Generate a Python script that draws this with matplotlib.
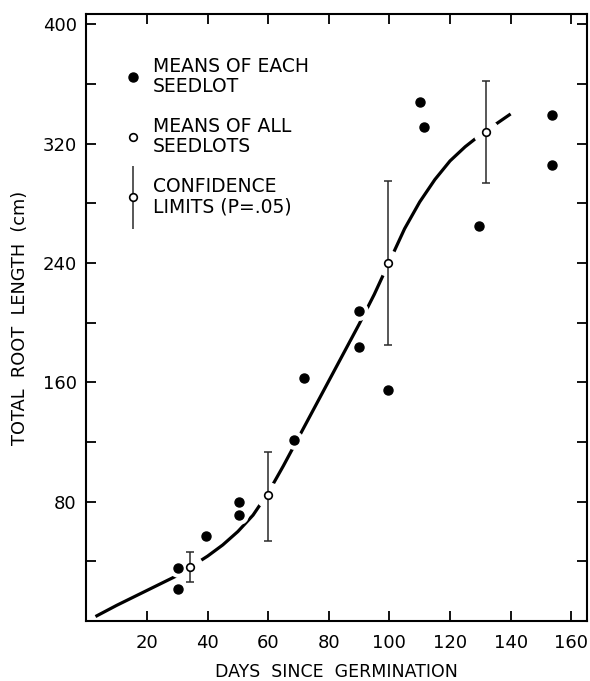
import numpy as np
import matplotlib
matplotlib.use('Agg')
import matplotlib.pyplot as plt
from matplotlib.lines import Line2D
from matplotlib.legend_handler import HandlerErrorbar

# means of each seedlot (filled dots)
seed_x = [30.3, 30.3, 39.4, 50.5, 50.5, 68.5, 71.9, 90, 90, 99.6, 110.1, 111.4, 129.7, 153.8, 153.8]
seed_y = [35.4, 21.3, 57, 79.7, 70.9, 121.5, 162.9, 208, 184, 154.6, 348, 331, 264.6, 339, 305.6]

# means of all seedlots with confidence limits
mean_x = [34.1, 59.8, 99.4, 131.8]
mean_y = [36.4, 84.3, 240, 328]
ci_low = [26.2, 53.9, 184.8, 294]
ci_high = [46.5, 113, 294.8, 362.4]

# fitted curve
curve_x = [3, 10, 20, 30, 35, 40, 45, 50, 55, 60, 65, 70, 75, 80, 85, 90, 95, 100,
           105, 110, 115, 120, 125, 130, 135, 140]
curve_y = [3, 10.5, 20.5, 30.5, 37, 43.5, 51, 60, 71, 86, 104, 123, 142, 161, 180, 199, 219, 241,
           263, 281, 296, 308.5, 318, 326, 333, 340]

x_ticks = [20, 40, 60, 80, 100, 120, 140, 160]
y_ticks = [80, 160, 240, 320, 400]
y_minor = [40, 120, 200, 280, 360]

plt.rcParams['font.family'] = 'DejaVu Sans'

fig = plt.figure(figsize=(5.9, 6.81), dpi=100)
ax = fig.add_axes([0.1464, 0.0881, 0.8485, 0.8913])

ax.plot(curve_x, curve_y, color='black', lw=2.3, solid_capstyle='butt', zorder=2)

# white halos cut gaps in the curve around the points
ax.plot(seed_x, seed_y, ls='none', marker='o', ms=12.5, mfc='white', mec='white', zorder=3)
ax.plot(mean_x, mean_y, ls='none', marker='o', ms=18, mfc='white', mec='white', zorder=3)

yerr = [np.array(mean_y) - np.array(ci_low), np.array(ci_high) - np.array(mean_y)]
ax.errorbar(mean_x, mean_y, yerr=yerr, fmt='none', ecolor='#2a2a2a', elinewidth=1.1,
            capsize=3, capthick=1.1, zorder=4)
ax.plot(seed_x, seed_y, ls='none', marker='o', ms=6.5, color='black', zorder=5)
ax.plot(mean_x, mean_y, ls='none', marker='o', ms=5.5, mfc='white', mec='black', mew=1.2, zorder=6)

ax.set_xlim(0, 165.2)
ax.set_ylim(0, 407)
ax.set_xticks(x_ticks)
ax.set_yticks(y_ticks)
ax.set_yticks(y_minor, minor=True)
ax.tick_params(which='both', direction='in', length=7, width=1.3, top=True, right=True,
               labelsize=13)
ax.tick_params(axis='x', pad=9)
ax.tick_params(axis='y', pad=7)

for s in ax.spines.values():
    s.set_linewidth(1.5)

ax.set_xlabel('DAYS  SINCE  GERMINATION', fontsize=12.5, labelpad=8)
ax.set_ylabel('TOTAL  ROOT  LENGTH  (cm)', fontsize=12.8, labelpad=10)

# legend
h1 = Line2D([], [], ls='none', marker='o', ms=6.5, color='black')
h2 = Line2D([], [], ls='none', marker='o', ms=5.5, mfc='white', mec='black', mew=1.2)
h3 = ax.errorbar([], [], yerr=[], fmt='o', ms=5.5, mfc='white', mec='black', mew=1.2,
                 ecolor='#2a2a2a', elinewidth=1.1, capsize=3, capthick=1.1)
leg = ax.legend([h1, h2, h3],
                ['MEANS OF EACH\nSEEDLOT', 'MEANS OF ALL\nSEEDLOTS', 'CONFIDENCE\nLIMITS (P=.05)'],
                handler_map={type(h3): HandlerErrorbar(yerr_size=1.7)},
                loc='upper left', bbox_to_anchor=(0.075, 0.93), frameon=False,
                fontsize=13.5, handlelength=1.0, handletextpad=0.55, labelspacing=1.12,
                borderpad=0, borderaxespad=0)
for t in leg.get_texts():
    t.set_linespacing(1.08)

fig.savefig('out.png', dpi=100)
